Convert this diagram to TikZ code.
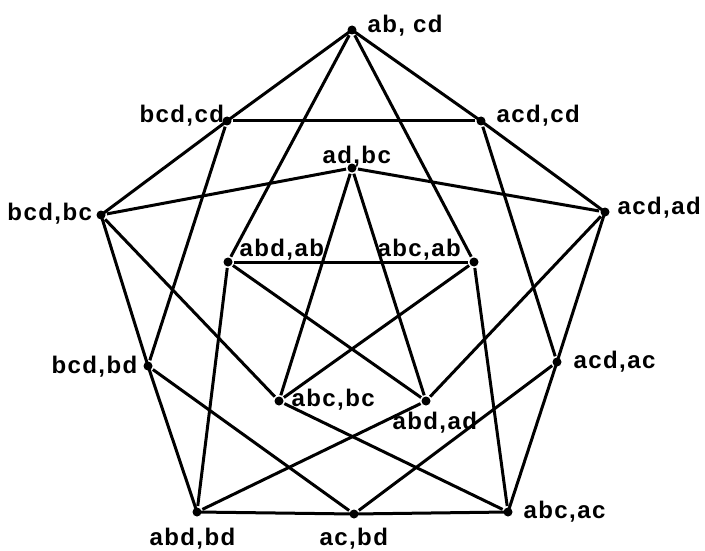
\documentclass[tikz,border=0pt]{standalone}
\usepackage{fontspec}
\newfontfamily\lblfont{Liberation Sans}[LetterSpace=6]
\begin{document}
\begin{tikzpicture}[x=1pt, y=-1pt, line width=3pt, line join=round,
    dot/.style={circle, fill, inner sep=0pt, minimum size=9pt},
    lbl/.style={anchor=base west, inner sep=0pt, font={\lblfont\bfseries\fontsize{24}{26}\selectfont}}]
    \useasboundingbox (0,0) rectangle (705,551);

    % outer ring
    \node[dot] (abcd)  at (352,30)  {};
    \node[dot] (bcdcd) at (227,121) {};
    \node[dot] (acdcd) at (481,121) {};
    \node[dot] (bcdbc) at (101,215) {};
    \node[dot] (acdad) at (605,212) {};
    \node[dot] (bcdbd) at (148,366) {};
    \node[dot] (acdac) at (557,362) {};
    \node[dot] (abdbd) at (197,512) {};
    \node[dot] (acbd)  at (354,514) {};
    \node[dot] (abcac) at (508,512) {};
    % inner star
    \node[dot] (adbc)  at (352,168) {};
    \node[dot] (abdab) at (228,262) {};
    \node[dot] (abcab) at (474,262) {};
    \node[dot] (abcbc) at (279,401) {};
    \node[dot] (abdad) at (426,401) {};

    \node[lbl] (l-abcd)  at (366,33)  {ab, cd};
    \node[lbl] (l-bcdcd) at (138,122) {bcd,cd};
    \node[lbl] (l-acdcd) at (495,122) {acd,cd};
    \node[lbl] (l-bcdbc) at (6,220)   {bcd,bc};
    \node[lbl] (l-acdad) at (616,214) {acd,ad};
    \node[lbl] (l-bcdbd) at (50,373)  {bcd,bd};
    \node[lbl] (l-acdac) at (572,368) {acd,ac};
    \node[lbl] (l-abdbd) at (148,545) {abd,bd};
    \node[lbl] (l-acbd)  at (318,545) {ac,bd};
    \node[lbl] (l-abcac) at (522,518) {abc,ac};
    \node[lbl] (l-adbc)  at (321,163) {ad,bc};
    \node[lbl] (l-abdab) at (238,256) {abd,ab};
    \node[lbl] (l-abcab) at (376,256) {abc,ab};
    \node[lbl] (l-abcbc) at (290,406) {abc,bc};
    \node[lbl] (l-abdad) at (391,429) {abd,ad};

    \draw (abcd.center) -- (bcdcd.center) -- (bcdbc.center) -- (bcdbd.center) -- (abdbd.center)
        -- (acbd.center) -- (abcac.center) -- (acdac.center) -- (acdad.center) -- (acdcd.center) -- cycle;
    \draw (bcdcd) -- (acdcd);
    \draw (bcdcd) -- (bcdbd);
    \draw (acdcd) -- (acdac);
    \draw (abcd) -- (abdab);
    \draw (abcd) -- (abcab);
    \draw (adbc) -- (bcdbc);
    \draw (adbc) -- (acdad);
    \draw (adbc) -- (abcbc);
    \draw (adbc) -- (abdad);
    \draw (bcdbc) -- (abcbc);
    \draw (acdad) -- (abdad);
    \draw (abdab) -- (abcab);
    \draw (abdab) -- (abdbd);
    \draw (abdab) -- (abdad);
    \draw (abcab) -- (abcac);
    \draw (abcab) -- (abcbc);
    \draw (bcdbd) -- (acbd);
    \draw (acdac) -- (acbd);
    \draw (abcbc) -- (abcac);
    \draw (abdad) -- (abdbd);
\end{tikzpicture}
\end{document}
